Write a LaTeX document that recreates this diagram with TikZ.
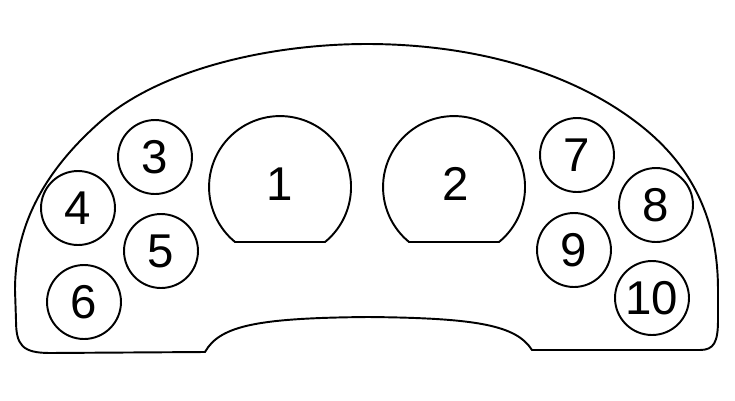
\documentclass[tikz,border=0pt]{standalone}
\usepackage{fontspec}
\setsansfont{Liberation Sans}
\begin{document}
\begin{tikzpicture}[x=0.02cm,y=-0.02cm,line width=1.1pt,
    dial/.style={draw,circle,minimum size=1.48cm,inner sep=0pt,font=\sffamily\fontsize{27}{30}\selectfont},
    gaugelabel/.style={font=\sffamily\fontsize{27}{30}\selectfont}]
        \useasboundingbox (0,0) rectangle (735,400);
        % Outer housing
        \draw (15,290) .. controls (15,230) and (40,175) .. (100,122)
            .. controls (160,69) and (270,44) .. (367,44)
            .. controls (470,44) and (570,70) .. (640,125)
            .. controls (700,172) and (718,230) .. (718,290)
            -- (718,320) .. controls (718,342) and (714,350) .. (700,350)
            -- (532,350) .. controls (516,325) and (476,318) .. (368,317)
            .. controls (260,318) and (220,325) .. (205,352)
            -- (50,353) .. controls (22,353) and (16,345) .. (16,320) -- cycle;
        % Large gauges
        \draw (325,242) arc[start angle=50.7,end angle=-230.7,radius=71] -- cycle;
        \draw (499,242) arc[start angle=50.7,end angle=-230.7,radius=71] -- cycle;
        \node[gaugelabel] (g1) at (280,184) {1};
        \node[gaugelabel] (g2) at (456,184) {2};
        % Small dials, left
        \node[dial] (d3) at (155,157) {3};
        \node[dial] (d4) at (78,208) {4};
        \node[dial] (d5) at (161,251) {5};
        \node[dial] (d6) at (84,302) {6};
        % Small dials, right
        \node[dial] (d7) at (577,155) {7};
        \node[dial] (d8) at (656,205) {8};
        \node[dial] (d9) at (574,250) {9};
        \node[dial] (d10) at (652,298) {10};
    \end{tikzpicture}
\end{document}
